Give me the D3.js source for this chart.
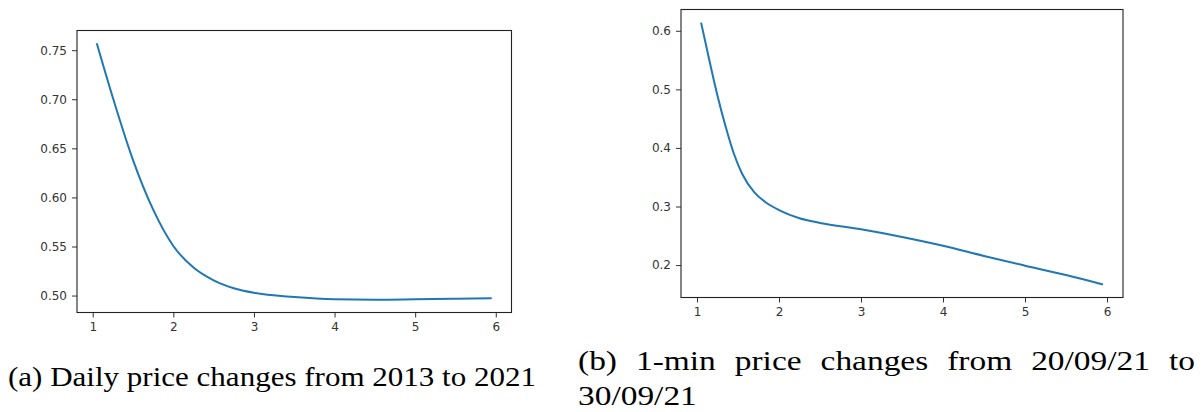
<!DOCTYPE html>
<html>
<head>
<meta charset="utf-8">
<script src="https://cdn.jsdelivr.net/npm/d3@7"></script>
<style>
  html, body { margin: 0; padding: 0; background: #fff; }
  svg { display: block; }
  .tick text { font-family: "DejaVu Sans", sans-serif; font-size: 12px; fill: #333; }
  .tick line { stroke: #333; }
  .caption { font-family: "Liberation Serif", "DejaVu Serif", serif; font-size: 27px; fill: #000; }
</style>
</head>
<body>
<svg id="fig" width="1203" height="412"></svg>
<script>
// (a) daily price changes, 2013-2021
const dailyX = [1.05, 1.25, 1.5, 1.75, 2.0, 2.25, 2.5, 2.75, 3.0, 3.5, 4.0, 4.5, 5.0, 5.5, 5.95];
const dailyY = [0.757, 0.7015, 0.638, 0.5875, 0.5505, 0.5285, 0.5155, 0.5075, 0.5028, 0.4985, 0.4962, 0.4958, 0.4962, 0.4967, 0.4972];
const dailyYTicks = [0.50, 0.55, 0.60, 0.65, 0.70, 0.75];

// (b) 1-min price changes, 20/09/21 - 30/09/21
const minuteX = [1.05, 1.15, 1.25, 1.35, 1.45, 1.55, 1.7, 1.85, 2.0, 2.25, 2.5, 3.0, 3.5, 4.0, 4.5, 5.0, 5.5, 5.95];
const minuteY = [0.614, 0.550, 0.489, 0.436, 0.390, 0.356, 0.324, 0.306, 0.294, 0.280, 0.272, 0.261, 0.248, 0.233, 0.2155, 0.199, 0.183, 0.167];
const minuteYTicks = [0.2, 0.3, 0.4, 0.5, 0.6];

const xTicks = [1, 2, 3, 4, 5, 6];

const captionA = "(a) Daily price changes from 2013 to 2021";
const captionB1 = ["(b)", "1-min", "price", "changes", "from", "20/09/21", "to"];
const captionB2 = "30/09/21";

const svg = d3.select("#fig");

// pad an extent by 5% on each side
function padded(ext) {
  const p = (ext[1] - ext[0]) * 0.05;
  return [ext[0] - p, ext[1] + p];
}

function panel(box, xs, ys, yTicks, yFmt) {
  const g = svg.append("g");
  const x = d3.scaleLinear().domain(padded(d3.extent(xs))).range([box.x0, box.x1]);
  const y = d3.scaleLinear().domain(padded(d3.extent(ys))).range([box.y1, box.y0]);

  const xAxis = g.append("g")
    .attr("transform", `translate(0,${box.y1})`)
    .call(d3.axisBottom(x).tickValues(xTicks).tickFormat(d3.format("d")).tickSize(5).tickPadding(5));
  const yAxis = g.append("g")
    .attr("transform", `translate(${box.x0},0)`)
    .call(d3.axisLeft(y).tickValues(yTicks).tickFormat(d3.format(yFmt)).tickSize(5).tickPadding(5));
  xAxis.select(".domain").remove();
  yAxis.select(".domain").remove();

  const pts = xs.map((v, i) => [v, ys[i]]);
  g.append("path")
    .datum(pts)
    .attr("fill", "none")
    .attr("stroke", "#1f77b4")
    .attr("stroke-width", 2)
    .attr("d", d3.line().x(d => x(d[0])).y(d => y(d[1])).curve(d3.curveMonotoneX));

  g.append("rect")
    .attr("x", box.x0).attr("y", box.y0)
    .attr("width", box.x1 - box.x0).attr("height", box.y1 - box.y0)
    .attr("fill", "none").attr("stroke", "#222").attr("stroke-width", 1.1);
}

panel({x0: 77, x1: 511.5, y0: 30.5, y1: 312.5}, dailyX, dailyY, dailyYTicks, ".2f");
panel({x0: 681, x1: 1123, y0: 9.5, y1: 297.5}, minuteX, minuteY, minuteYTicks, ".1f");

// captions
svg.append("text").attr("class", "caption")
  .attr("x", 8).attr("y", 386)
  .attr("textLength", 528).attr("lengthAdjust", "spacingAndGlyphs")
  .text(captionA);

// first line of (b) is justified between its margins, words widened to the caption face
const bLeft = 578, bRight = 1195, bBase = 370, wordGap = 19;
const words = svg.append("g").selectAll("text").data(captionB1).join("text")
  .attr("class", "caption").attr("y", bBase).text(d => d);
const widths = [];
words.each(function () { widths.push(this.getComputedTextLength()); });
const stretch = (bRight - bLeft - wordGap * (captionB1.length - 1)) / d3.sum(widths);
let cx = bLeft;
words.each(function (d, i) {
  const w = widths[i] * stretch;
  d3.select(this).attr("x", cx).attr("textLength", w).attr("lengthAdjust", "spacingAndGlyphs");
  cx += w + wordGap;
});

const line2 = svg.append("text").attr("class", "caption")
  .attr("x", bLeft).attr("y", bBase + 35)
  .text(captionB2);
line2.attr("textLength", line2.node().getComputedTextLength() * stretch)
  .attr("lengthAdjust", "spacingAndGlyphs");
</script>
</body>
</html>
